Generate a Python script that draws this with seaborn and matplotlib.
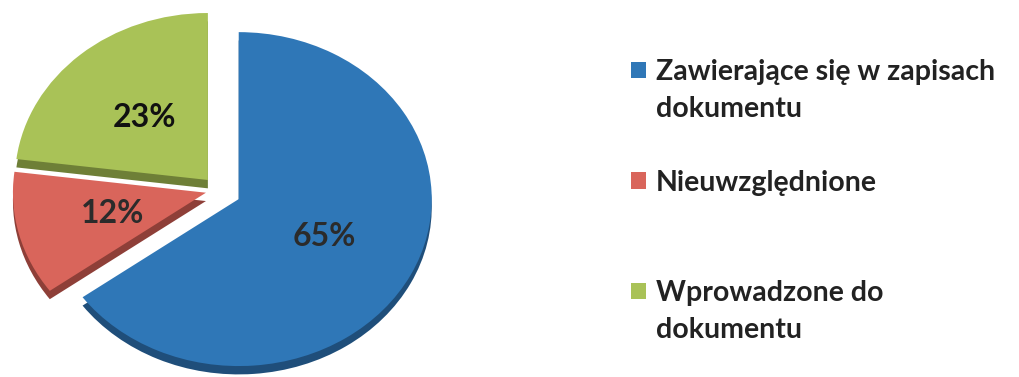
import numpy as np
import pandas as pd
import matplotlib.pyplot as plt
import seaborn as sns
from matplotlib.patches import Patch

# Data
categories = ["Zawierające się w zapisach\ndokumentu", "Nieuwzględnione", "Wprowadzone do\ndokumentu"]
shares = [65, 12, 23]
colors = ["#2f77b7", "#d9655b", "#a9c257"]
side_colors = ["#1f4e7a", "#8e3f38", "#6e7f37"]
label_colors = ["#2b2b2b", "#2b2b2b", "#111111"]
explode = [0.12, 0.065, 0.08]
# blank legend rows after each entry (the legend is spread out unevenly)
legend_gaps = [1, 2, 0]

sns.set_theme(style="white")
plt.rcParams['font.family'] = ['Lato', 'DejaVu Sans']

fig = plt.figure(figsize=(10.2, 3.77), dpi=100)
ax = fig.add_axes([0, 0, 1, 1])

# darker copy shifted down = side wall of the tilted 3D pie
ax.pie(shares, colors=side_colors, explode=explode, startangle=90, counterclock=False,
       center=(0, -0.05), wedgeprops=dict(linewidth=0))
wedges, texts, autotexts = ax.pie(shares, colors=colors, explode=explode, startangle=90,
                                  counterclock=False, autopct="%d%%", pctdistance=0.5,
                                  wedgeprops=dict(linewidth=0),
                                  textprops=dict(fontsize=23, fontweight="bold"))
for t, c in zip(autotexts, label_colors):
    t.set_color(c)

# squash vertically and crop like the original
ax.set_aspect("auto")
ax.set_xlim(-1.13, 4.155)
ax.set_ylim(-1.12, 1.138)
ax.axis("off")

# legend: marker on the first line of each label, extra lines as blank rows
handles, labels = [], []
for w, cat, gap in zip(wedges, categories, legend_gaps):
    lines = cat.split("\n")
    handles.append(w)
    labels.append(lines[0])
    for ln in lines[1:]:
        handles.append(Patch(facecolor="none", edgecolor="none"))
        labels.append(ln)
    for _ in range(gap):
        handles.append(Patch(facecolor="none", edgecolor="none"))
        labels.append(" ")

ax.legend(handles, labels, loc="upper left", bbox_to_anchor=(0.619, 0.843),
          frameon=False, borderpad=0, borderaxespad=0, handlelength=0.5,
          handleheight=0.5, handletextpad=0.35, labelspacing=0.38,
          prop=dict(family=["Lato", "DejaVu Sans"], size=20.5, weight="bold"),
          labelcolor="#222222")

fig.savefig("out.png", dpi=100)
